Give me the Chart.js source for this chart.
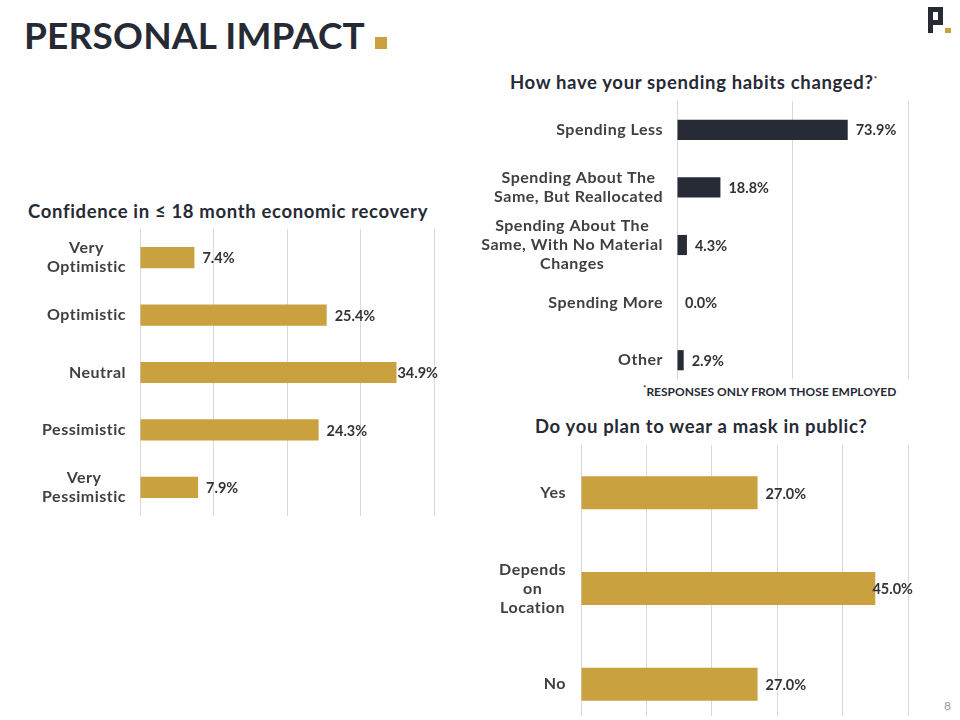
<!DOCTYPE html>
<html>
<head>
<meta charset="utf-8">
<script src="https://cdn.jsdelivr.net/npm/chart.js@4.4.1/dist/chart.umd.min.js"></script>
<style>
  body { margin: 0; width: 960px; height: 720px; overflow: hidden; background: #fff; position: relative; font-family: Lato, "Open Sans", sans-serif; }
  .abs { position: absolute; }
  #title { left: 24px; top: 12px; margin: 0; font-size: 37px; font-weight: 700; color: #262a35; letter-spacing: 0.2px; white-space: nowrap; }
  #title span { display: inline-block; width: 12px; height: 12px; background: #c9a13f; margin-left: 10px; }
  .ctitle { font-size: 18.5px; font-weight: 700; color: #262a35; white-space: nowrap; letter-spacing: 0.65px; }
  .clip { overflow: hidden; }
  #note { left: 643px; top: 383px; font-size: 12px; font-weight: 700; color: #262a35; white-space: nowrap; }
  #note sup, .ctitle sup { font-size: 8px; }
  #page { left: 944px; top: 698px; font-size: 12px; color: #999; }
</style>
</head>
<body>
<h1 id="title" class="abs">PERSONAL IMPACT<span></span></h1>

<!-- logo -->
<div class="abs" style="left:928px;top:7px;width:5px;height:26px;background:#262a35"></div>
<div class="abs" style="left:928px;top:7px;width:15px;height:18px;border:5px solid #262a35;box-sizing:border-box"></div>
<div class="abs" style="left:945px;top:28px;width:6px;height:5px;background:#c9a13f"></div>

<div class="abs ctitle" style="left:28px;top:200px">Confidence in ≤ 18 month economic recovery</div>
<canvas id="c1" class="abs" style="left:0;top:229px" width="440" height="287"></canvas>

<div class="abs ctitle" style="left:510px;top:71px">How have your spending habits changed?<sup>*</sup></div>
<div class="abs clip" style="left:470px;top:101px;width:440px;height:278px">
  <canvas id="c2" width="440" height="288"></canvas>
</div>
<div id="note" class="abs"><sup>*</sup>RESPONSES ONLY FROM THOSE EMPLOYED</div>

<div class="abs ctitle" style="left:535px;top:415px">Do you plan to wear a mask in public?</div>
<div class="abs clip" style="left:480px;top:445px;width:435px;height:271px">
  <canvas id="c3" width="435" height="287"></canvas>
</div>
<div id="page" class="abs">8</div>

<script>
const confidenceLabels = [['Very', 'Optimistic'], 'Optimistic', 'Neutral', 'Pessimistic', ['Very', 'Pessimistic']];
const confidenceValues = [7.4, 25.4, 34.9, 24.3, 7.9];

const spendingLabels = ['Spending Less', ['Spending About The', 'Same, But Reallocated'], ['Spending About The', 'Same, With No Material', 'Changes'], 'Spending More', 'Other'];
const spendingValues = [73.9, 18.8, 4.3, 0.0, 2.9];

const maskLabels = ['Yes', ['Depends', 'on', 'Location'], 'No'];
const maskValues = [27.0, 45.0, 27.0];

const GOLD = '#c9a13f';
const DARK = '#272b35';

// category labels: single lines right aligned, multi-line blocks centred (like the slide)
const catLabels = {
  id: 'catLabels',
  afterDraw(chart) {
    const ctx = chart.ctx;
    const y = chart.scales.y;
    const pad = chart.options.plugins.catLabels.padding;
    ctx.save();
    ctx.font = '700 16px Lato, sans-serif';
    ctx.letterSpacing = '0.5px';
    ctx.fillStyle = '#404040';
    ctx.textAlign = 'center';
    ctx.textBaseline = 'middle';
    chart.data.labels.forEach((lab, i) => {
      const lines = Array.isArray(lab) ? lab : [lab];
      const w = Math.max(...lines.map(l => ctx.measureText(l).width));
      const cx = chart.chartArea.left - pad - w / 2;
      const cy = y.getPixelForValue(i);
      lines.forEach((l, k) => {
        ctx.fillText(l, cx, cy + (k - (lines.length - 1) / 2) * 19);
      });
    });
    ctx.restore();
  }
};

const valueLabels = {
  id: 'valueLabels',
  afterDatasetsDraw(chart) {
    const ctx = chart.ctx;
    const data = chart.data.datasets[0].data;
    ctx.save();
    ctx.font = '700 14.5px Lato, sans-serif';
    ctx.fillStyle = '#333';
    ctx.textAlign = 'left';
    ctx.textBaseline = 'middle';
    chart.getDatasetMeta(0).data.forEach((bar, i) => {
      const txt = data[i].toFixed(1) + '%';
      const w = ctx.measureText(txt).width;
      const x = Math.min(bar.x + 8, chart.width - w - 2);
      ctx.fillText(txt, x, bar.y + 1);
    });
    ctx.restore();
  }
};

function makeChart(id, labels, values, color, max, step, padLeft, padRight, labelPad, barPct) {
  return new Chart(document.getElementById(id), {
    type: 'bar',
    data: {
      labels: labels,
      datasets: [{
        data: values,
        backgroundColor: color,
        barPercentage: barPct,
        categoryPercentage: 1
      }]
    },
    options: {
      indexAxis: 'y',
      responsive: false,
      animation: false,
      layout: { padding: { left: padLeft, right: padRight, top: 0, bottom: 0 } },
      plugins: {
        legend: { display: false },
        tooltip: { enabled: false },
        catLabels: { padding: labelPad }
      },
      scales: {
        x: {
          min: 0,
          max: max,
          ticks: { display: false, stepSize: step },
          grid: { color: '#d9d9d9', lineWidth: 1, drawTicks: false },
          border: { display: false }
        },
        y: { display: false }
      }
    },
    plugins: [catLabels, valueLabels]
  });
}

makeChart('c1', confidenceLabels, confidenceValues, GOLD, 40, 10, 140, 6, 14, 0.37);
makeChart('c2', spendingLabels, spendingValues, DARK, 100, 50, 207, 2, 14, 0.35);
makeChart('c3', maskLabels, maskValues, GOLD, 50, 10, 101, 7, 15, 0.345);
</script>
</body>
</html>
